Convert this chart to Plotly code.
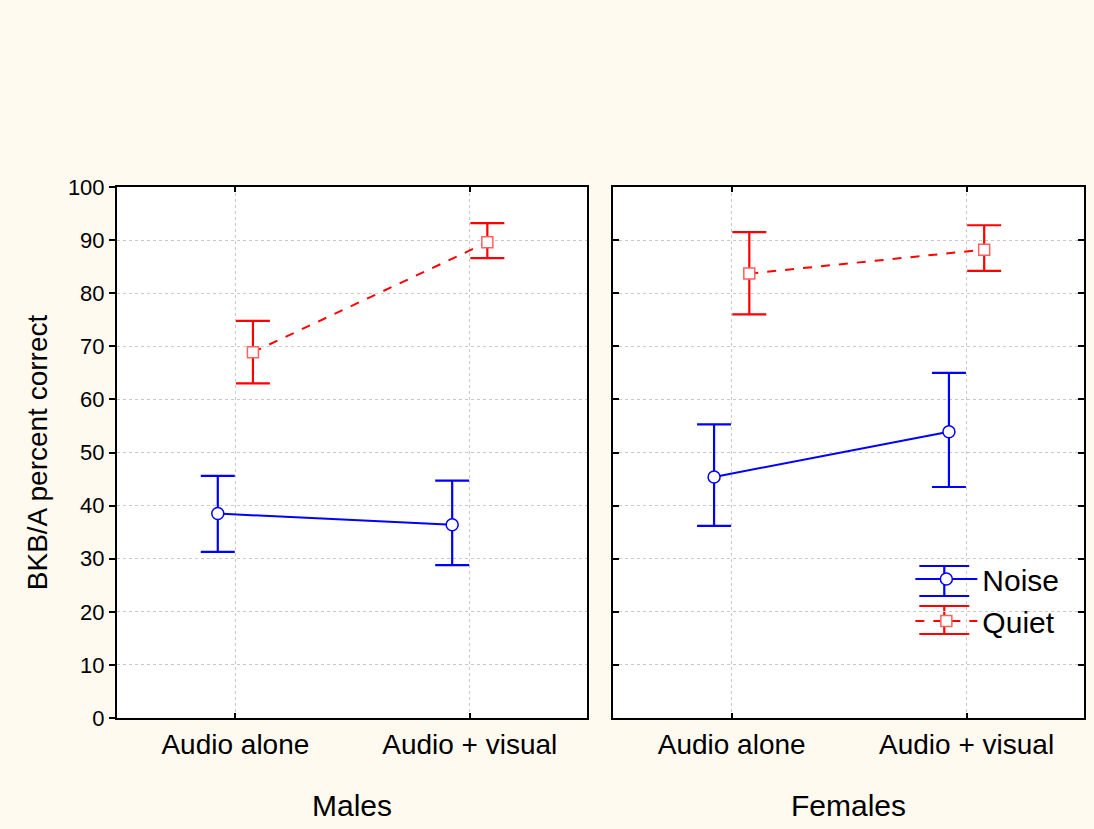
import plotly.graph_objects as go

conditions = ["Audio alone", "Audio + visual"]
groups = ["Males", "Females"]

# values per group: [Audio alone, Audio + visual]
noise_mean = {"Males": [38.5, 36.4], "Females": [45.4, 53.9]}
noise_upper = {"Males": [45.6, 44.7], "Females": [55.3, 65.0]}
noise_lower = {"Males": [31.3, 28.8], "Females": [36.2, 43.5]}

quiet_mean = {"Males": [68.9, 89.6], "Females": [83.7, 88.2]}
quiet_upper = {"Males": [74.8, 93.2], "Females": [91.5, 92.8]}
quiet_lower = {"Males": [63.0, 86.6], "Females": [76.0, 84.2]}

y_ticks = [0, 10, 20, 30, 40, 50, 60, 70, 80, 90, 100]

BLUE = "#0000FF"
RED = "#FF0000"
BG = "#FFFAF0"
FONT = "Liberation Sans, Arial"
OFFSET = 0.075

W, H = 1094, 829
L, R, T, B = 117, 8, 187, 111
PW, PH = W - L - R, H - T - B


def px_x(px):
    return (px - L) / PW


def px_y(py):
    return (H - B - py) / PH


fig = go.Figure()

for gi, g in enumerate(groups):
    xa = "x" if gi == 0 else "x2"
    ya = "y" if gi == 0 else "y2"
    xs = list(range(len(conditions)))
    nm = noise_mean[g]
    fig.add_trace(go.Scatter(
        x=[x - OFFSET for x in xs], y=nm, xaxis=xa, yaxis=ya,
        mode="lines+markers", name="Noise", showlegend=(gi == 1),
        line=dict(color=BLUE, width=2),
        marker=dict(symbol="circle", size=12, color="white", line=dict(color=BLUE, width=1.5)),
        error_y=dict(type="data", symmetric=False,
                     array=[u - m for u, m in zip(noise_upper[g], nm)],
                     arrayminus=[m - l for l, m in zip(noise_lower[g], nm)],
                     color=BLUE, thickness=2.2, width=17),
    ))
    qm = quiet_mean[g]
    fig.add_trace(go.Scatter(
        x=[x + OFFSET for x in xs], y=qm, xaxis=xa, yaxis=ya,
        mode="lines+markers", name="Quiet", showlegend=(gi == 1),
        line=dict(color=RED, width=2, dash="dash"),
        marker=dict(symbol="square", size=11, color="white", line=dict(color="#FF6060", width=1.5)),
        error_y=dict(type="data", symmetric=False,
                     array=[u - m for u, m in zip(quiet_upper[g], qm)],
                     arrayminus=[m - l for l, m in zip(quiet_lower[g], qm)],
                     color=RED, thickness=2.2, width=17),
    ))

xcommon = dict(
    range=[-0.505, 1.5], tickvals=[0, 1], ticktext=conditions,
    showgrid=True, gridcolor="#C8C8C8", griddash="dot", gridwidth=1,
    showline=True, linecolor="black", linewidth=2, mirror="ticks",
    ticks="inside", ticklen=5, tickcolor="black", tickwidth=2,
    tickfont=dict(family=FONT, size=28, color="black"),
    zeroline=False, title_font=dict(family=FONT, size=30, color="black"),
    title_standoff=36,
)
ycommon = dict(
    range=[0, 100], tickvals=y_ticks,
    showgrid=True, gridcolor="#C8C8C8", griddash="dot", gridwidth=1,
    showline=True, linecolor="black", linewidth=2,
    ticklen=6, tickcolor="black", tickwidth=2, zeroline=False,
    tickfont=dict(family=FONT, size=22, color="black"),
)

# legend decoration: error-bar caps around the legend symbols
LEG_CX = 946
shapes = []
for color, top, bot in [(BLUE, 566, 596), (RED, 606, 634)]:
    for py in (top, bot):
        shapes.append(dict(type="line", xref="paper", yref="paper",
                           x0=px_x(LEG_CX - 25), x1=px_x(LEG_CX + 25), y0=px_y(py), y1=px_y(py),
                           line=dict(color=color, width=2.2)))
    shapes.append(dict(type="line", xref="paper", yref="paper",
                       x0=px_x(LEG_CX), x1=px_x(LEG_CX), y0=px_y(top), y1=px_y(bot),
                       line=dict(color=color, width=2.2), layer="below"))

fig.update_layout(
    width=W, height=H,
    paper_bgcolor=BG, plot_bgcolor="white",
    margin=dict(l=L, r=R, t=T, b=B),
    xaxis=dict(domain=[0, 0.486], title_text="Males", **xcommon),
    xaxis2=dict(domain=[0.513, 1.0], title_text="Females", anchor="y2", **xcommon),
    yaxis=dict(anchor="x", ticks="outside", mirror=True, title_text="BKB/A percent correct",
               title_font=dict(family=FONT, size=28, color="black"),
               title_standoff=12, **ycommon),
    yaxis2=dict(anchor="x2", ticks="inside", mirror="ticks", showticklabels=False, **ycommon),
    legend=dict(x=px_x(912), y=px_y(553), xanchor="left", yanchor="top",
                bgcolor="rgba(0,0,0,0)", tracegroupgap=0, itemwidth=62,
                font=dict(family=FONT, size=30, color="black")),
    showlegend=True,
    shapes=shapes,
)

fig.write_html(
    "out.html",
    config={"displayModeBar": False},
    post_script=f"document.body.style.margin='0';document.body.style.background='{BG}';",
)
